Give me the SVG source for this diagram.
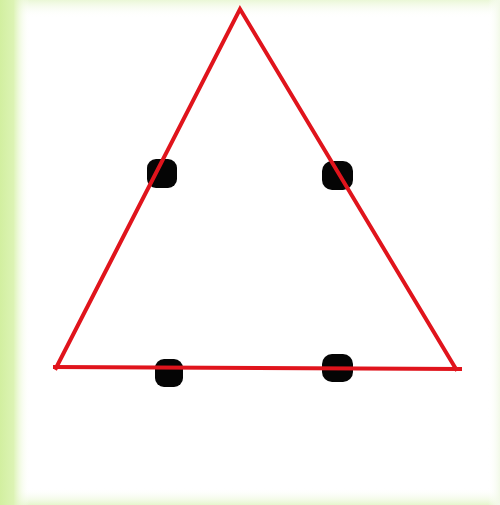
<svg xmlns="http://www.w3.org/2000/svg" width="500" height="505" viewBox="0 0 500 505">
<defs>
<linearGradient id="gl" x1="0" x2="1" y1="0" y2="0"><stop offset="0" stop-color="#d2efa0"/><stop offset="0.45" stop-color="#dcf3b4"/><stop offset="1" stop-color="#ffffff" stop-opacity="0"/></linearGradient>
<linearGradient id="gt" x1="0" x2="0" y1="0" y2="1"><stop offset="0" stop-color="#eaf7d6"/><stop offset="1" stop-color="#ffffff" stop-opacity="0"/></linearGradient>
<linearGradient id="gb" x1="0" x2="0" y1="1" y2="0"><stop offset="0" stop-color="#e6f6cc"/><stop offset="1" stop-color="#ffffff" stop-opacity="0"/></linearGradient>
<linearGradient id="gr" x1="1" x2="0" y1="0" y2="0"><stop offset="0" stop-color="#f2f9e8"/><stop offset="1" stop-color="#ffffff" stop-opacity="0"/></linearGradient>
<style>
.edge{stroke:#e0141c;stroke-width:4;fill:none;stroke-linecap:square}
.dot{fill:#050505}
</style>
</defs>
<rect width="500" height="505" fill="#ffffff"/>
<rect x="0" y="0" width="500" height="18" fill="url(#gt)"/>
<rect x="0" y="488" width="500" height="17" fill="url(#gb)"/>
<rect x="488" y="0" width="12" height="505" fill="url(#gr)"/>
<rect x="0" y="0" width="30" height="505" fill="url(#gl)"/>
<g id="dot-left"><rect class="dot" x="147" y="159" width="30" height="29" rx="9"/></g>
<g id="dot-right"><rect class="dot" x="322" y="161" width="31" height="29" rx="10"/></g>
<g id="dot-bottom-left"><rect class="dot" x="155" y="359" width="28" height="28" rx="9"/></g>
<g id="dot-bottom-right"><rect class="dot" x="322" y="354" width="31" height="28" rx="10"/></g>
<g id="connectors">
<polyline class="edge" points="56,368 240,9 456,369"/>
<line class="edge" x1="55" y1="367" x2="460" y2="369"/>
</g>
</svg>
